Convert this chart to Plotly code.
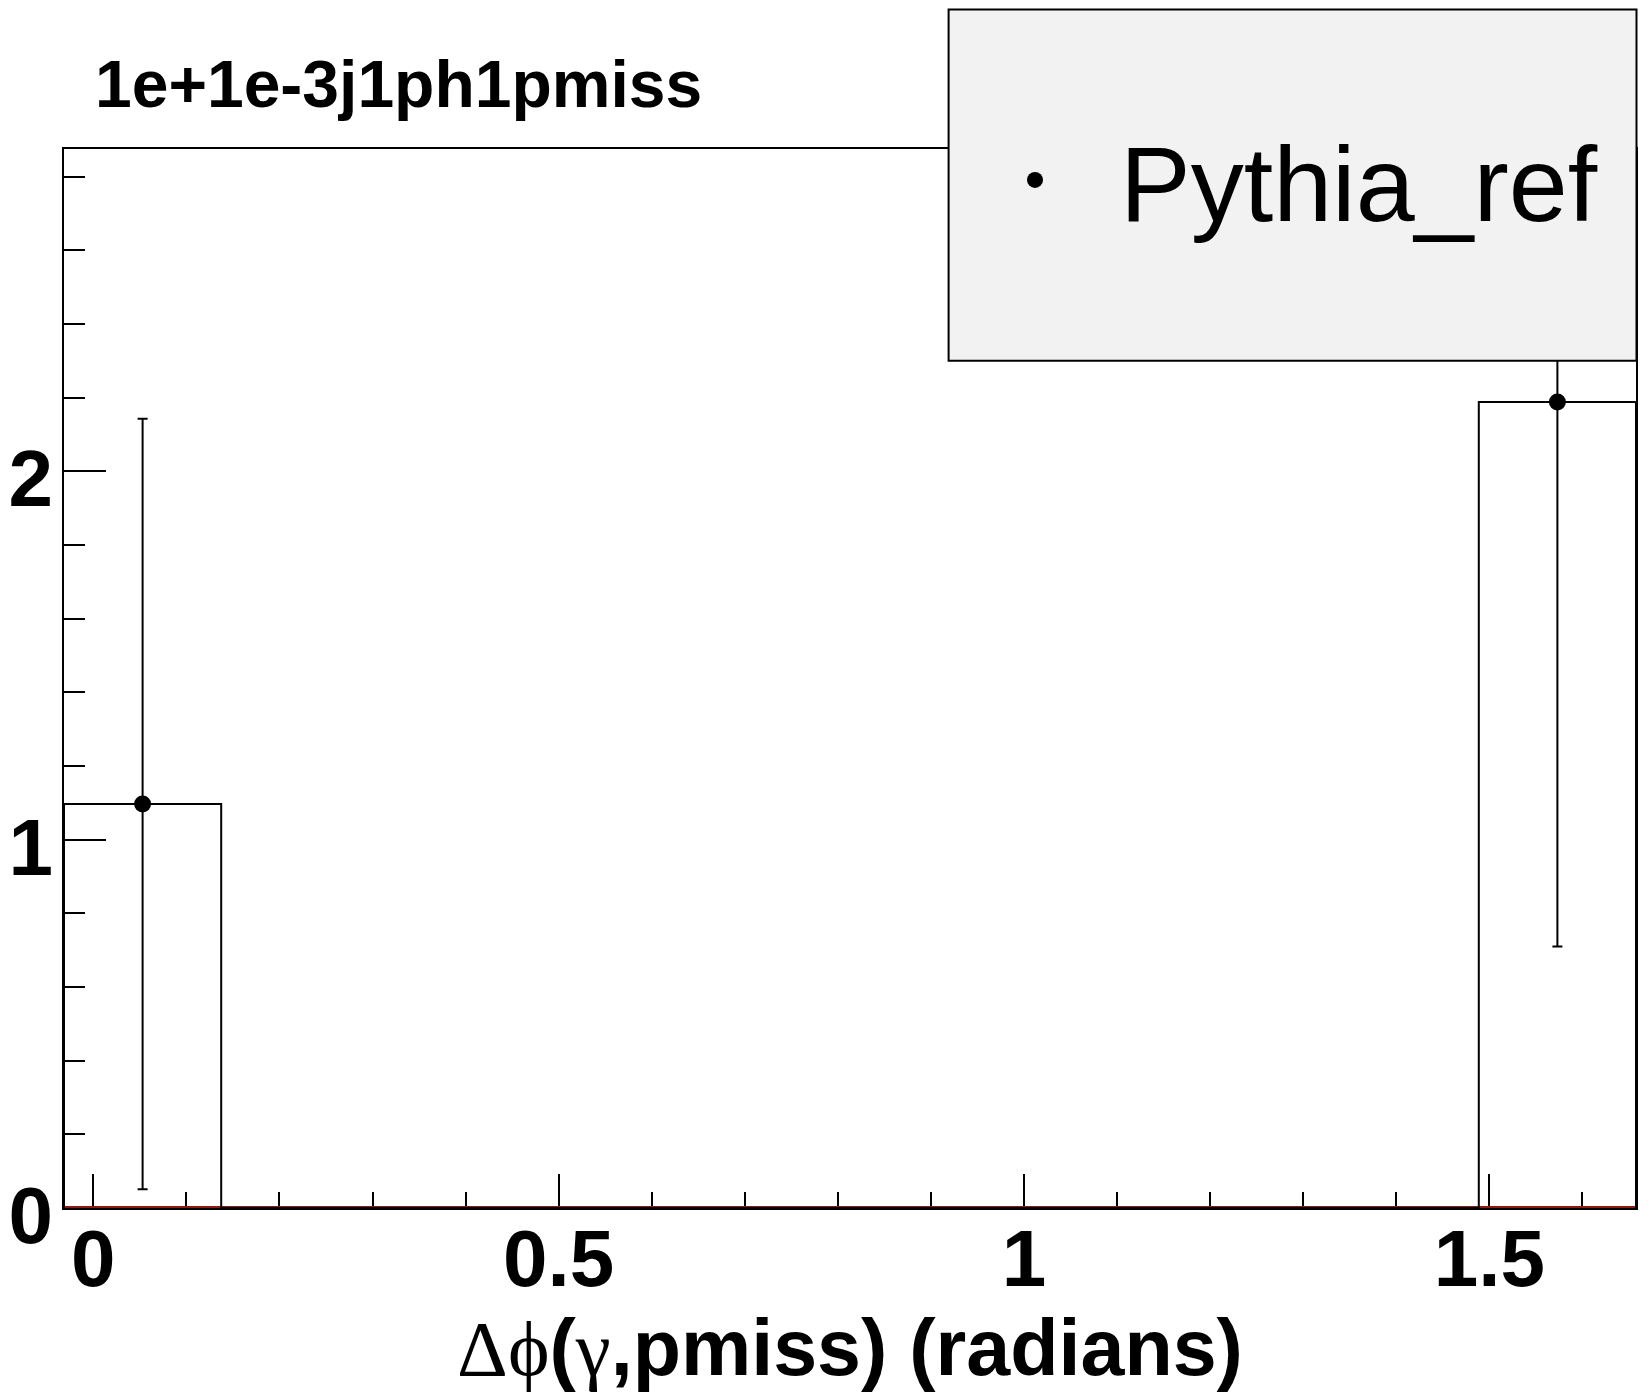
import numpy as np
import plotly.graph_objects as go

# ---------------- data ----------------
hist_title = "1e+1e-3j1ph1pmiss"
x_title = ('<span style="font-family:Liberation Serif;font-weight:normal">Δϕ</span>('
           '<span style="font-family:Liberation Serif;font-weight:normal">γ</span>,pmiss) (radians)')
series_name = "Pythia_ref"

x_min = -0.0315
x_max = 1.6575
n_bins = 10
bin_edges = list(np.linspace(x_min, x_max, n_bins + 1))
bin_centers = [(a + b) / 2 for a, b in zip(bin_edges[:-1], bin_edges[1:])]

counts = [1.097, 0, 0, 0, 0, 0, 0, 0, 0, 2.188]
errors = [1.046, 0, 0, 0, 0, 0, 0, 0, 0, 1.478]
zero_counts = [0, 0, 0, 0, 0, 0, 0, 0, 0, 0]

y_max = 2.875
x_tickvals = [0, 0.5, 1, 1.5]
x_ticktext = ["0", "0.5", "1", "1.5"]
y_tickvals = [0, 1, 2]
y_ticktext = ["0", "1", "2"]

# ---------------- figure ----------------
W, H = 1649, 1392
ml, mr, mt, mb = 64, 13, 149, 184
FONT = "Liberation Sans"

fig = go.Figure()

# zero-content histogram (dark red) along the bottom
fig.add_trace(go.Scatter(
    x=bin_edges, y=zero_counts + [zero_counts[-1]],
    mode="lines", line=dict(color="#8b1a10", width=4, shape="hv"),
    showlegend=False, hoverinfo="skip"))

# histogram outline
step_x = [bin_edges[0]] + bin_edges + [bin_edges[-1]]
step_y = [0] + counts + [counts[-1], 0]
fig.add_trace(go.Scatter(
    x=step_x, y=step_y, mode="lines",
    line=dict(color="black", width=2, shape="hv"),
    showlegend=False, hoverinfo="skip"))

# points with error bars (non-empty bins)
px = [c for c, v in zip(bin_centers, counts) if v > 0]
py = [v for v in counts if v > 0]
pe = [e for e, v in zip(errors, counts) if v > 0]
fig.add_trace(go.Scatter(
    x=px, y=py, mode="markers", name=series_name,
    marker=dict(color="black", size=17, symbol="circle"),
    error_y=dict(type="data", array=pe, visible=True, color="black",
                 thickness=2, width=5),
    cliponaxis=True))

pw = W - ml - mr
ph = H - mt - mb

def px2x(X):
    return (X - ml) / pw

def px2y(Y):
    return (H - mb - Y) / ph

# legend box
fig.add_shape(type="rect", xref="paper", yref="paper",
              x0=px2x(948.6), x1=px2x(1636.5), y0=px2y(360.7), y1=px2y(9.5),
              line=dict(color="black", width=2), fillcolor="#f2f2f2",
              layer="above")

fig.update_layout(
    width=W, height=H,
    margin=dict(l=ml, r=mr, t=mt, b=mb, autoexpand=False),
    paper_bgcolor="white", plot_bgcolor="white",
    font=dict(family=FONT, color="black"),
    title=dict(text=hist_title, x=95 / W, xanchor="left", xref="container",
               y=1 - 84 / H, yanchor="middle", yref="container",
               font=dict(family=FONT, size=66, weight="bold", color="black")),
    showlegend=True,
    legend=dict(x=px2x(950), xanchor="left", y=px2y(180), yanchor="middle",
                bgcolor="rgba(0,0,0,0)", borderwidth=0,
                font=dict(family=FONT, size=106, color="black"),
                itemwidth=160, itemsizing="trace"),
)

fig.update_xaxes(
    range=[x_min, x_max], showgrid=False, zeroline=False,
    showline=True, mirror=True, linecolor="black", linewidth=2,
    layer="below traces",
    ticks="inside", ticklen=34, tickwidth=2, tickcolor="black",
    tickvals=x_tickvals, ticktext=x_ticktext,
    tickfont=dict(family=FONT, size=80, weight="bold", color="black"),
    ticklabelstandoff=-20,
    minor=dict(ticks="inside", ticklen=16, tickwidth=2, tickcolor="black",
               dtick=0.1, tick0=0, showgrid=False),
    title=dict(text=x_title, standoff=6,
               font=dict(family=FONT, size=79, weight="bold", color="black")),
    automargin=False,
)
fig.update_yaxes(
    range=[0, y_max], showgrid=False, zeroline=False,
    showline=True, mirror=True, linecolor="black", linewidth=2,
    ticks="inside", ticklen=42, tickwidth=2, tickcolor="black",
    tickvals=y_tickvals, ticktext=y_ticktext,
    tickfont=dict(family=FONT, size=80, weight="bold", color="black"),
    ticklabelstandoff=-7, ticklabelshift=7,
    minor=dict(ticks="inside", ticklen=21, tickwidth=2, tickcolor="black",
               dtick=0.2, tick0=0, showgrid=False),
    automargin=False,
)

fig.write_html("out.html",
               config={"displayModeBar": False},
               post_script="document.body.style.margin='0';"
                           "document.body.style.overflow='hidden';")
